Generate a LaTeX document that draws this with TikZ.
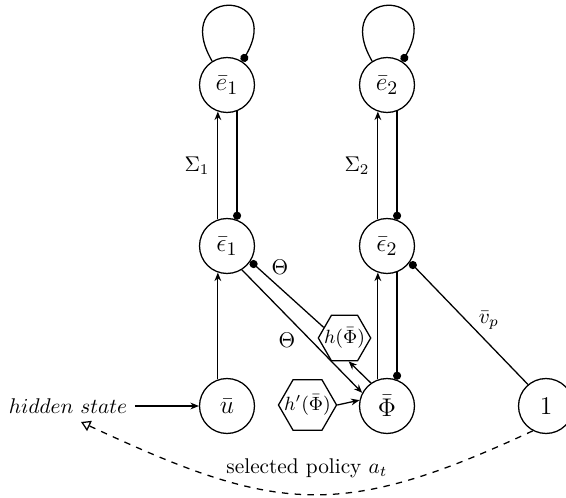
\documentclass[tikz,border=0pt]{standalone}
\usetikzlibrary{arrows.meta,shapes.geometric}
\begin{document}
\begin{tikzpicture}[x=0.4695pt,y=0.4695pt,line width=0.6pt,
  st/.style={draw, circle, minimum size=25.8pt, inner sep=0pt, font=\fontsize{12.5}{15}\selectfont},
  hex/.style={draw, regular polygon, regular polygon sides=6, inner sep=-2.6pt, font=\fontsize{8.6}{10}\selectfont},
  arr/.style={-{Stealth[length=4pt,width=3.2pt]}},
  ball/.style={-{Circle[length=3.8pt]}},
  opentri/.style={-{Triangle[open,length=4.4pt,width=5.2pt]}}]
\useasboundingbox (0,0) rectangle (566,497);
% nodes
\node[st] (e1) at (227,412) {$\bar e_1$};
\node[st] (e2) at (387,412) {$\bar e_2$};
\node[st] (eps1) at (227,251) {$\bar\epsilon_1$};
\node[st] (eps2) at (387,251) {$\bar\epsilon_2$};
\node[st] (u) at (227,91) {$\bar u$};
\node[st] (phi) at (387,91) {$\bar\Phi$};
\node[st] (one) at (546,91) {$1$};
\node (hs) at (68,91) {$hidden\ state$};
\node[hex, minimum size=24.6pt] (h) at (344.5,159) {$h(\bar\Phi)$};
\node[hex, minimum size=26.2pt] (hp) at (307.5,92) {$h'(\bar\Phi)$};
\coordinate (hsend) at (81,75);
% labels
\node (s1) at (197,331) {$\Sigma_1$};
\node (s2) at (357,331) {$\Sigma_2$};
\node (th1) at (280,230) {$\Theta$};
\node (th2) at (287,157) {$\Theta$};
\node (vp) at (489,177) {$\bar v_p$};
% self loops
\draw[ball] (e1.122) .. controls +(120:85) and +(60:85) .. (e1.57);
\draw[ball] (e2.122) .. controls +(120:85) and +(60:85) .. (e2.57);
% left column
\draw[arr] (eps1.109) -- (e1.251);
\draw[ball] (e1.291) -- (eps1.69);
\draw[arr] (u.109) -- (eps1.251);
% right column
\draw[arr] (eps2.109) -- (e2.251);
\draw[ball] (e2.291) -- (eps2.69);
\draw[arr] (phi.109) -- (eps2.251);
\draw[ball] (eps2.291) -- (phi.69);
% diagonals
\draw[arr] (eps1.-58) -- (phi.152);
\draw[ball] (h.153) -- (eps1.-33);
\draw[arr] (phi.125) -- (h.-80);
\draw[arr] (hp.east) -- (phi.168);
\draw[ball] (one.130) -- (eps2.-35);
\draw[arr] (hs.east) -- (u.west);
% dashed policy curve
\draw[opentri, dashed] (one.242) .. controls +(205:214) and +(-25:214) .. (hsend)
  node[midway, above=4pt] {selected policy $a_t$};
\end{tikzpicture}
\end{document}
